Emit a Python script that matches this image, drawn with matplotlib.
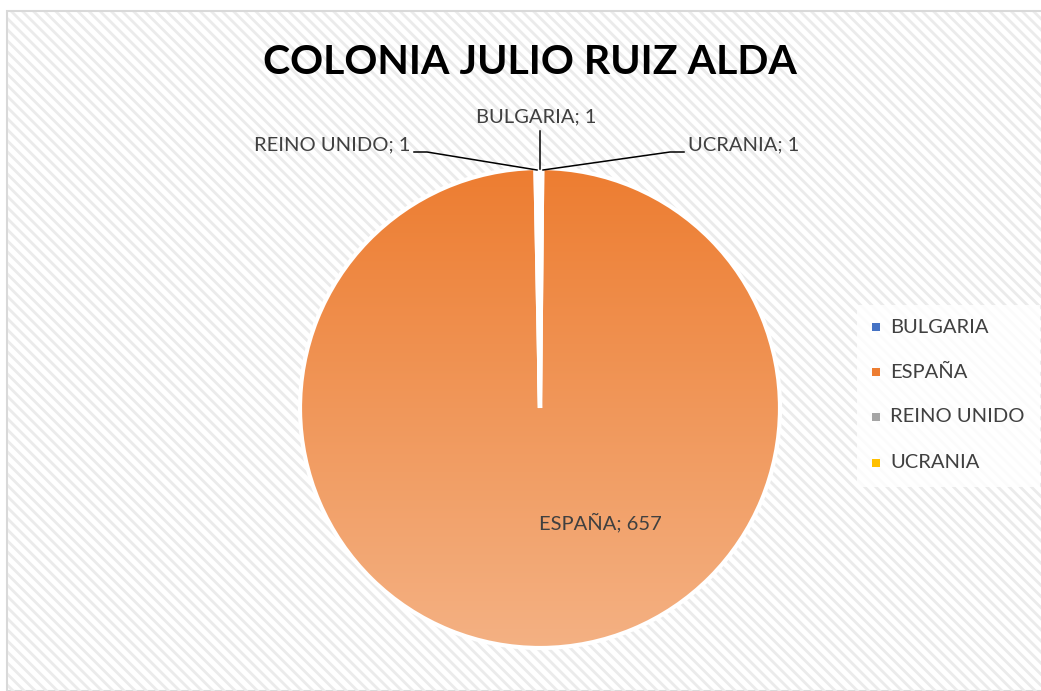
import numpy as np
import matplotlib.pyplot as plt
from matplotlib.patches import Rectangle
from matplotlib.colors import LinearSegmentedColormap, to_rgb

plt.rcParams['font.family'] = ['Lato', 'DejaVu Sans']

title = "COLONIA JULIO RUIZ ALDA"
countries = ["BULGARIA", "ESPAÑA", "REINO UNIDO", "UCRANIA"]
counts = [1, 657, 1, 1]
top_colors = ["#4472C4", "#ED7D31", "#A5A5A5", "#FFC000"]
bottom_colors = ["#9DB5E3", "#F4B183", "#D0D0D0", "#FFDC80"]
text_color = "#404040"

W, H = 1041, 691
fig = plt.figure(figsize=(W / 100, H / 100), dpi=100)
fig.patch.set_facecolor("white")

# hatched chart background
bg = Rectangle((7 / W, 0), 1, 1 - 11 / H, transform=fig.transFigure,
               facecolor="white", edgecolor="#d9d9d9", lw=1.5, zorder=-3)
fig.patches.append(bg)
plt.rcParams['hatch.color'] = '#ebebeb'
plt.rcParams['hatch.linewidth'] = 2.0
hatch = Rectangle((8 / W, 0), 1, 1 - 12 / H, transform=fig.transFigure,
                  facecolor="none", edgecolor="#ebebeb", lw=0, hatch="\\\\\\", zorder=-2)
fig.patches.append(hatch)

fig.text(530 / W, 1 - 62 / H, title, ha="center", va="center",
         fontsize=29.5, fontweight="bold", color="black")

# pie axes: center (540, 408) radius ~240 px
cx, cy, r = 540, 408, 240
ax = fig.add_axes([(cx - r) / W, (H - cy - r) / H, 2 * r / W, 2 * r / H])
ax.patch.set_alpha(0)

wedges, _ = ax.pie(counts, startangle=90, counterclock=False, radius=1,
                   colors=["white"] * len(counts),
                   wedgeprops=dict(edgecolor="white", linewidth=3))

grad = np.linspace(0, 1, 256).reshape(-1, 1)
for w, c1, c2 in zip(wedges, top_colors, bottom_colors):
    cmap = LinearSegmentedColormap.from_list("g", [to_rgb(c1), to_rgb(c2)])
    im = ax.imshow(grad, cmap=cmap, extent=[-1, 1, -1, 1], origin="upper",
                   aspect="auto", zorder=1)
    im.set_clip_path(w)
    w.set_facecolor("none")
    w.set_zorder(2)

ax.set_xlim(-1, 1)
ax.set_ylim(-1, 1)
ax.set_aspect("equal")
ax.axis("off")

def px(x, y):
    return (x - cx) / r, (cy - y) / r

lab_kw = dict(fontsize=14.5, color=text_color)

# BULGARIA
x0, y0 = px(540, 169)
x1, y1 = px(540, 131)
ax.plot([x0, x1], [y0, y1], color="black", lw=1.1, clip_on=False)
tx, ty = px(536, 117)
ax.text(tx, ty, f"{countries[0]}; {counts[0]}", ha="center", va="center", **lab_kw)

# REINO UNIDO
pts = [px(537, 170), px(427, 152), px(414, 152)]
ax.plot([p[0] for p in pts], [p[1] for p in pts], color="black", lw=1.1, clip_on=False)
tx, ty = px(410, 145)
ax.text(tx, ty, f"{countries[2]}; {counts[2]}", ha="right", va="center", **lab_kw)

# UCRANIA
pts = [px(543, 170), px(670, 152), px(684, 152)]
ax.plot([p[0] for p in pts], [p[1] for p in pts], color="black", lw=1.1, clip_on=False)
tx, ty = px(688, 145)
ax.text(tx, ty, f"{countries[3]}; {counts[3]}", ha="left", va="center", **lab_kw)

# ESPAÑA
tx, ty = px(600, 523)
ax.text(tx, ty, f"{countries[1]}; {counts[1]}", ha="center", va="center", **lab_kw)

# legend
lg = Rectangle((857 / W, 1 - 487 / H), 183 / W, 182 / H, transform=fig.transFigure,
               facecolor="white", edgecolor="none", alpha=0.85, zorder=-1)
fig.patches.append(lg)
ys = [327, 372, 417, 463]
for name, c, y in zip(countries, top_colors, ys):
    fig.patches.append(Rectangle((872 / W, 1 - (y + 4) / H), 8 / W, 8 / H,
                                 transform=fig.transFigure, facecolor=c,
                                 edgecolor="none", zorder=2))
    fig.text(890 / W, 1 - y / H, name, ha="left", va="center", **lab_kw)

fig.savefig("out.png", dpi=100)
